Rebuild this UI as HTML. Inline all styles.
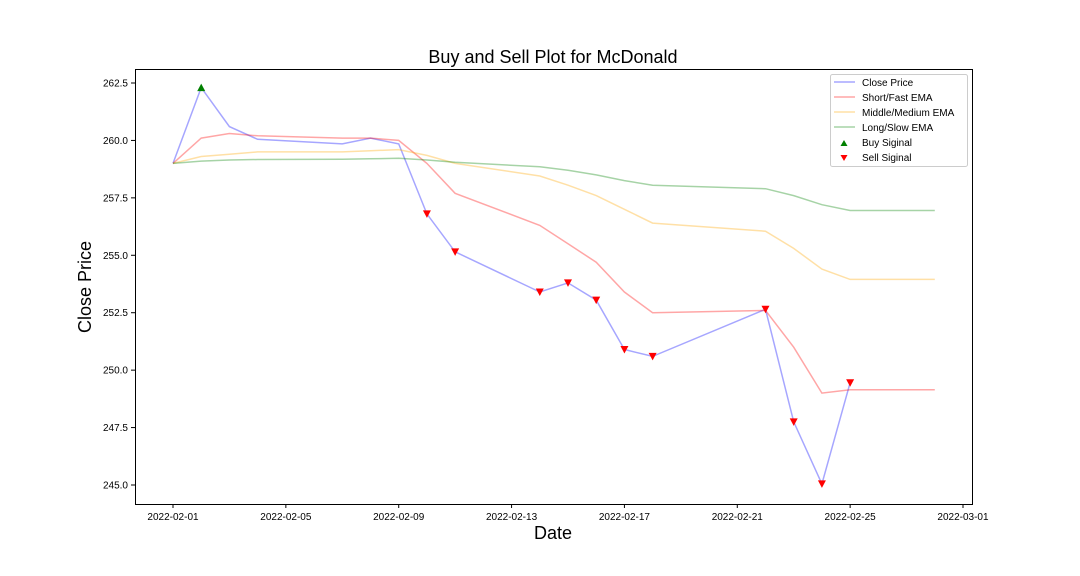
<!DOCTYPE html>
<html><head><meta charset="utf-8"><style>
body{margin:0;background:#fff;}
svg{display:block;font-family:"Liberation Sans","DejaVu Sans",sans-serif;}
</style></head><body>
<svg id="chart" width="1080" height="576">
<text x="553" y="63" font-size="18" text-anchor="middle">Buy and Sell Plot for McDonald</text>
<rect x="135.5" y="69.5" width="837" height="435" fill="none" stroke="#000" stroke-width="1"/>
<g id="xt"></g>
<g id="yt"></g>
<g id="series"></g>
<text x="553" y="539" font-size="18" text-anchor="middle">Date</text>
<text x="91" y="287" font-size="18" text-anchor="middle" transform="rotate(-90 91 287)">Close Price</text>
<g>
<rect x="830.5" y="74.5" width="137" height="92" rx="2" fill="#fff" stroke="#ccc"/>
<g font-size="10">
<line x1="834" y1="82" x2="855" y2="82" stroke="#0000ff" stroke-opacity="0.35" stroke-width="1.5"/><text x="862" y="86">Close Price</text>
<line x1="834" y1="97" x2="855" y2="97" stroke="#ff0000" stroke-opacity="0.35" stroke-width="1.5"/><text x="862" y="101">Short/Fast EMA</text>
<line x1="834" y1="112" x2="855" y2="112" stroke="#ffa500" stroke-opacity="0.35" stroke-width="1.5"/><text x="862" y="116">Middle/Medium EMA</text>
<line x1="834" y1="127" x2="855" y2="127" stroke="#008000" stroke-opacity="0.35" stroke-width="1.5"/><text x="862" y="131">Long/Slow EMA</text>
<path d="M840.5,146 L844,140 L847.5,146Z" fill="#008000"/><text x="862" y="146">Buy Siginal</text>
<path d="M840.5,155 L844,161 L847.5,155Z" fill="#ff0000"/><text x="862" y="161">Sell Siginal</text>
</g></g>
</svg>
<script>
const dates=["2022-02-01","2022-02-02","2022-02-03","2022-02-04","2022-02-07","2022-02-08","2022-02-09","2022-02-10","2022-02-11","2022-02-14","2022-02-15","2022-02-16","2022-02-17","2022-02-18","2022-02-22","2022-02-23","2022-02-24","2022-02-25","2022-02-28"];
const closeP=[259.0,262.3,260.6,260.05,259.85,260.1,259.85,256.8,255.15,253.4,253.8,253.05,250.9,250.6,252.65,247.75,245.05,249.45,null];
const shortEma=[259.0,260.1,260.3,260.2,260.1,260.1,260.0,259.0,257.7,256.3,255.5,254.7,253.4,252.5,252.6,251.0,249.0,249.15,249.15];
const midEma=[259.0,259.3,259.4,259.5,259.5,259.55,259.6,259.35,259.0,258.45,258.05,257.6,257.0,256.4,256.05,255.3,254.4,253.95,253.95];
const longEma=[259.0,259.1,259.15,259.17,259.18,259.2,259.22,259.15,259.05,258.85,258.7,258.5,258.25,258.05,257.9,257.6,257.2,256.95,256.95];
const buyDates=["2022-02-02"];
const buyVals=[262.3];
const sellDates=["2022-02-10","2022-02-11","2022-02-14","2022-02-15","2022-02-16","2022-02-17","2022-02-18","2022-02-22","2022-02-23","2022-02-24","2022-02-25"];
const sellVals=[256.8,255.15,253.4,253.8,253.05,250.9,250.6,252.65,247.75,245.05,249.45];
const xTicks=["2022-02-01","2022-02-05","2022-02-09","2022-02-13","2022-02-17","2022-02-21","2022-02-25","2022-03-01"];
const yTicks=[245.0,247.5,250.0,252.5,255.0,257.5,260.0,262.5];

const NS="http://www.w3.org/2000/svg";
const d0=Date.parse("2022-02-01");
function X(d){return 173+(Date.parse(d)-d0)/86400000*28.214;}
function Y(v){return 485-(v-245)*(402/17.5);}
function mk(tag,at,parent){const e=document.createElementNS(NS,tag);for(const k in at)e.setAttribute(k,at[k]);parent.appendChild(e);return e;}
const xt=document.getElementById('xt'),yt=document.getElementById('yt'),sg=document.getElementById('series');
xTicks.forEach(t=>{const x=X(t);
 const l=mk('line',{x1:x,y1:504,x2:x,y2:508,stroke:'#000'},xt);
 
 
 const tx=mk('text',{x:x,y:520,'font-size':10,'text-anchor':'middle'},xt);tx.textContent=t;
 
 
});
yTicks.forEach(v=>{const y=Y(v);
 const l=mk('line',{x1:131,y1:y,x2:135,y2:y,stroke:'#000'},yt);
 
 
 const tx=mk('text',{x:128,y:y+3.5,'font-size':10,'text-anchor':'end'},yt);tx.textContent=v.toFixed(1);
 
 
});
function line(vals,color,name){
 const pts=[];vals.forEach((v,i)=>{if(v!==null)pts.push(X(dates[i]).toFixed(1)+','+Y(v).toFixed(1));});
 const p=mk('polyline',{points:pts.join(' '),fill:'none',stroke:color,'stroke-opacity':0.35,'stroke-width':1.5},sg);
 
 
}
line(closeP,'#0000ff','close-price-line');
line(shortEma,'#ff0000','short-ema-line');
line(midEma,'#ffa500','middle-ema-line');
line(longEma,'#008000','long-ema-line');
buyDates.forEach((d,i)=>{const x=X(d),y=Y(buyVals[i]);
 const p=mk('path',{d:`M${x-4},${y+3.5} L${x},${y-4} L${x+4},${y+3.5}Z`,fill:'#008000'},sg);
 
 
});
sellDates.forEach((d,i)=>{const x=X(d),y=Y(sellVals[i]);
 const p=mk('path',{d:`M${x-4},${y-3.5} L${x},${y+4} L${x+4},${y-3.5}Z`,fill:'#ff0000'},sg);
 
 
});
</script>
</body></html>
